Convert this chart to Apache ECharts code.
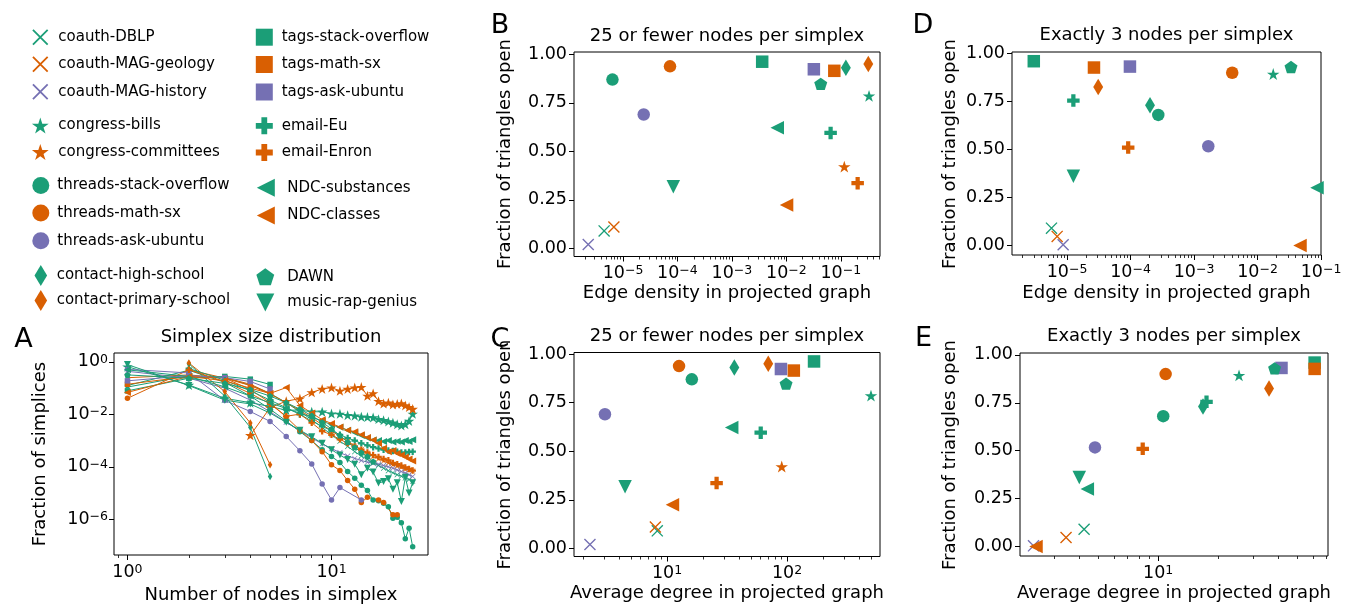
<!DOCTYPE html>
<html><head><meta charset="utf-8">
<script src="https://cdn.jsdelivr.net/npm/echarts@6.0.0/dist/echarts.min.js"></script>
<style>html,body{margin:0;padding:0;background:#fff}#c{width:1346px;height:604px}</style>
</head><body><div id="c"></div>
<script>
// ---------------- DATA ----------------
const datasetNames = ['coauth-DBLP','coauth-MAG-geology','coauth-MAG-history','congress-bills','congress-committees',
  'threads-stack-overflow','threads-math-sx','threads-ask-ubuntu','contact-high-school','contact-primary-school',
  'tags-stack-overflow','tags-math-sx','tags-ask-ubuntu','email-Eu','email-Enron','NDC-substances','NDC-classes','DAWN','music-rap-genius'];

// Panels B & C: 25 or fewer nodes per simplex
const openFrac25 = [0.09,0.11,0.02,0.786,0.421,0.87,0.938,0.69,0.931,0.95,0.962,0.915,0.923,0.595,0.336,0.622,0.224,0.848,0.317];
const edgeDensity25 = [4.5e-6,6.8e-6,2.3e-6,0.33,0.116,6.4e-6,7.3e-5,2.4e-5,0.124,0.32,3.6e-3,0.076,0.032,0.065,0.204,6.8e-3,0.0101,0.0428,8.4e-5];
const avgDegree25 = [8.3,8.0,2.28,501,90.4,16.1,12.6,3.04,36.4,69.8,168,114,89,60.4,25.9,34.6,11.1,98.2,4.47];

// Panels D & E: exactly 3 nodes per simplex (congress-committees not shown)
const openFrac3 = [0.09,0.047,0.003,0.893,null,0.68,0.9,0.517,0.73,0.825,0.96,0.927,0.932,0.755,0.51,0.30,0.0,0.93,0.36];
const edgeDensity3 = [5.7e-6,7.0e-6,8.7e-6,0.0177,null,2.74e-4,4.0e-3,1.68e-3,2.03e-4,3.1e-5,3.0e-6,2.66e-5,9.8e-5,1.26e-5,9.2e-5,0.0865,0.0467,0.0337,1.26e-5];
const avgDegree3 = [4.24,3.44,2.36,25.5,null,10.6,10.9,4.81,16.8,36.1,61.2,61.2,41.7,17.5,8.36,4.40,2.43,38.5,4.01];

// Panel A: simplex size distribution (fraction of simplices with k nodes, k = 1..)
const simplexSizes = [1,2,3,4,5,6,7,8,9,10,11,12,13,14,15,16,17,18,19,20,21,22,23,24,25];
const distCoauthDBLP = [0.11,0.30,0.25,0.13,0.063,0.028,0.0126,0.0063,0.0032,0.00166,0.00095,0.0006,0.00038,0.00026,0.00019,0.00014,0.000112,0.000089,0.000071,0.00006,0.00005,0.000044,0.000038,0.000033,0.000028];
const distCoauthGeology = [0.25,0.32,0.24,0.126,0.06,0.028,0.014,0.0076,0.004,0.0024,0.0014,0.00095,0.00063,0.00045,0.00033,0.00025,0.0002,0.000166,0.000138,0.000117,0.000105,0.000093,0.000083,0.000076,0.000069];
const distCoauthHistory = [0.44,0.24,0.10,0.035,0.0126,0.005,0.0024,0.00126,0.00076,0.0005,0.00035,0.00026,0.00021,0.000174,0.000151,0.000138,0.000126,0.000112,0.0001,0.000089,0.000076,0.000066,0.000058,0.00005,0.000043];
const distCongressBills = [0.66,0.132,0.041,0.028,0.02,0.0145,0.0145,0.0126,0.0126,0.0107,0.0105,0.0093,0.0089,0.0081,0.0079,0.0076,0.0066,0.006,0.0054,0.0048,0.0042,0.0038,0.0042,0.0056,0.0105];
const distCongressCommittees = [null,null,null,0.0016,0.018,0.032,0.04,0.069,0.093,0.105,0.079,0.093,0.105,0.11,0.051,0.063,0.032,0.026,0.028,0.024,0.025,0.026,0.022,0.019,0.016];
const distThreadsStackOverflow = [0.126,0.48,0.166,0.05,0.0158,0.0056,0.0022,0.001,0.00045,0.00025,0.000145,0.000066,0.000037,0.00002,0.0000126,0.0000055,0.0000051,0.0000041,0.000003,0.0000011,0.0000012,0.00000074,0.00000018,0.00000046,0.000000091];
const distThreadsMathSx = [0.041,0.5,0.24,0.089,0.028,0.0079,0.0025,0.001,0.00038,0.00012,0.000072,0.00003,0.0000141,0.0000044,0.0000069,null,0.0000055,0.0000044,null,0.0000015,0.0000015];
const distThreadsAskUbuntu = [0.52,0.38,0.034,0.0129,0.0054,0.00145,0.00041,0.000129,0.0000224,0.0000055,0.0000162,null,null,0.0000055];
const distContactHighSchool = [null,0.85,0.05,0.0032,0.0000427];
const distContactPrimarySchool = [null,0.91,0.074,0.0047,0.00012];
const distTagsStackOverflow = [0.079,0.24,0.28,0.22,0.138];
const distTagsMathSx = [0.141,0.28,0.25,0.141,0.063];
const distTagsAskUbuntu = [0.19,0.3,0.25,0.18,0.093];
const distEmailEu = [null,0.56,0.2,0.079,0.035,0.0178,0.01,0.0056,0.0035,0.0024,0.00166,0.00126,0.001,0.00079,0.00066,0.00056,0.0005,0.00045,0.00042,0.0004,0.00038,0.00035,0.00035,0.00037,0.00038];
const distEmailEnron = [null,0.5,0.178,0.063,0.025,0.0085,0.0102,0.0048,0.0023,0.00166,0.00112,0.00079,0.0006,0.00045,0.00035,0.00028,0.00024,0.0002,0.000178,0.000141,0.000126,0.000112,0.000095,0.000083,0.000072];
const distNDCSubstances = [0.5,0.28,0.112,0.05,0.028,0.0166,0.0112,0.0079,0.0056,0.004,0.0032,0.0025,0.002,0.00158,0.00126,0.00105,0.001,0.00093,0.001,0.00089,0.00095,0.00089,0.001,0.00093,0.00107];
const distNDCClasses = [0.069,0.28,0.19,0.1,0.063,0.105,0.022,0.0112,0.0063,0.0045,0.0033,0.0025,0.0022,0.00166,0.00132,0.00105,0.00079,0.00051,0.00038,0.00042,0.00032,0.00028,0.00024,0.0002,0.000166];
const distDAWN = [0.32,0.24,0.151,0.089,0.05,0.028,0.0158,0.0089,0.005,0.0028,0.00158,0.00089,0.00056,0.00035,0.00025,0.000158];
const distMusicRapGenius = [0.79,0.126,0.035,0.025,0.0112,0.005,0.0025,0.0014,0.00079,0.00045,0.00028,0.00019,0.000126,0.00005,0.000089,0.000063,0.000024,0.0000275,0.000035,0.0000141,0.000025,0.0000048,0.00004,0.00001,0.000025];
const sizeDists = [distCoauthDBLP,distCoauthGeology,distCoauthHistory,distCongressBills,distCongressCommittees,
  distThreadsStackOverflow,distThreadsMathSx,distThreadsAskUbuntu,distContactHighSchool,distContactPrimarySchool,
  distTagsStackOverflow,distTagsMathSx,distTagsAskUbuntu,distEmailEu,distEmailEnron,distNDCSubstances,distNDCClasses,distDAWN,distMusicRapGenius];

// tick values
const openTicks = [0, 0.25, 0.5, 0.75, 1];
const expTicksAx = [0, 1];
const expTicksAy = [-6, -4, -2, 0];
const expTicksB = [-5, -4, -3, -2, -1];
const expTicksC = [1, 2];
const expTicksD = [-5, -4, -3, -2, -1];
const expTicksE = [1];

// ---------------- STYLE ----------------
const FONT = 'DejaVu Sans';
const G = '#1b9e77', O = '#d95f02', P = '#7570b3';
const datasetColors = [G,O,P,G,O,G,O,P,G,O,G,O,P,G,O,G,O,G,G];
const datasetMarkers = ['x','x','x','star','star','circle','circle','circle','diamond','diamond','square','square','square','plus','plus','tleft','tleft','pent','tdown'];
const SYMBOL = {
  x: 'path://M0 8L8 0L100 92L92 100Z M92 0L100 8L8 100L0 92Z',
  star: 'path://M50 0L61.23 34.55L97.55 34.55L68.17 55.9L79.39 90.45L50 69.1L20.61 90.45L31.83 55.9L2.45 34.55L38.77 34.55Z',
  circle: 'circle',
  diamond: 'path://M30 0L60 50L30 100L0 50Z',
  square: 'path://M0 0L100 0L100 100L0 100Z',
  plus: 'path://M33 0L67 0L67 33L100 33L100 67L67 67L67 100L33 100L33 67L0 67L0 33L33 33Z',
  tleft: 'path://M0 50L100 0L100 100Z',
  pent: 'path://M50 0L97.55 34.55L79.39 90.45L20.61 90.45L2.45 34.55Z',
  tdown: 'path://M0 0L100 0L50 100Z'
};
const symbolAspect = {x:1, star:1.051, circle:1, diamond:0.6, square:1, plus:1, tleft:1, pent:1.051, tdown:1};
const bigSize = {x:12, star:12.5, circle:12.5, diamond:16.5, square:12.5, plus:12.5, tleft:13.5, pent:13, tdown:13.5};
const smallSize = {x:5.5, star:10.5, circle:5.5, diamond:7.5, square:5.5, plus:6.5, tleft:7, pent:6.5, tdown:7};
const TICK_FS = 17.5;
const RICH = {
  b: {fontSize: TICK_FS, fontFamily: FONT, color: '#000', lineHeight: 18, padding: [3,0,0,0], verticalAlign: 'bottom'},
  s: {fontSize: 12.5, fontFamily: FONT, color: '#000', lineHeight: 14, verticalAlign: 'top'}
};
function pow10Label(v) {
  const e = Math.round(v);
  return '{b|10}{s|' + (e < 0 ? '\u2212' + (-e) : String(e)) + '}';
}
function minorLogTicks(min, max) {
  const out = [];
  for (let k = Math.floor(min); k <= Math.ceil(max); k++)
    for (let m = 2; m <= 9; m++) { const v = k + Math.log10(m); if (v > min && v < max) out.push(v); }
  return out;
}
function logXAxes(gi, range, majors, withMinor) {
  const axes = [{
    type: 'value', gridIndex: gi, min: range[0], max: range[1], position: 'bottom',
    axisLine: {show: false, onZero: false}, splitLine: {show: false},
    axisTick: {show: true, customValues: majors, length: 5, lineStyle: {color: '#000', width: 1}},
    axisLabel: {show: true, customValues: majors, margin: 8, formatter: pow10Label, rich: RICH, color: '#000', showMinLabel: true, showMaxLabel: true}
  }];
  axes.push({
    type: 'value', gridIndex: gi, min: range[0], max: range[1], position: 'bottom',
    axisLine: {show: false, onZero: false}, splitLine: {show: false},
    axisTick: {show: withMinor, customValues: minorLogTicks(range[0], range[1]), length: 3, lineStyle: {color: '#000', width: 0.8}},
    axisLabel: {show: false}
  });
  return axes;
}
function openYAxis(gi, range) {
  return {
    type: 'value', gridIndex: gi, min: range[0], max: range[1],
    axisLine: {show: false, onZero: false}, splitLine: {show: false},
    axisTick: {show: true, customValues: openTicks, length: 5, lineStyle: {color: '#000', width: 1}},
    axisLabel: {customValues: openTicks, formatter: v => v.toFixed(2), fontSize: TICK_FS, fontFamily: FONT, color: '#000', margin: 7, showMinLabel: true, showMaxLabel: true}
  };
}

const grids = [
  {left: 114, top: 353, width: 314, height: 202},
  {left: 574, top: 52, width: 306, height: 204.5},
  {left: 574, top: 352.5, width: 306, height: 204},
  {left: 1012, top: 52, width: 309, height: 203},
  {left: 1020, top: 353, width: 308, height: 203}
].map(g => Object.assign(g, {show: true, borderColor: '#000', borderWidth: 1, backgroundColor: 'transparent', containLabel: false}));

const xAxes = [].concat(
  logXAxes(0, [-0.066, 1.473], expTicksAx, true),
  logXAxes(1, [-5.9, -0.28], expTicksB, true),
  logXAxes(2, [0.225, 2.775], expTicksC, true),
  logXAxes(3, [-5.866, -1.0], expTicksD, true),
  logXAxes(4, [0.305, 1.854], expTicksE, true)
);
const yAxes = [
  {
    type: 'value', gridIndex: 0, min: -7.36, max: 0.34,
    axisLine: {show: false, onZero: false}, splitLine: {show: false},
    axisTick: {show: true, customValues: expTicksAy, length: 5, lineStyle: {color: '#000', width: 1}},
    axisLabel: {customValues: expTicksAy, formatter: pow10Label, rich: RICH, color: '#000', margin: 6, showMinLabel: true, showMaxLabel: true}
  },
  openYAxis(1, [-0.042, 1.012]),
  openYAxis(2, [-0.042, 1.008]),
  openYAxis(3, [-0.05, 1.008]),
  openYAxis(4, [-0.05, 1.01])
];

const series = [];
const scatterPanels = [
  {xi: 2, yi: 1, xs: edgeDensity25, ys: openFrac25},
  {xi: 4, yi: 2, xs: avgDegree25, ys: openFrac25},
  {xi: 6, yi: 3, xs: edgeDensity3, ys: openFrac3},
  {xi: 8, yi: 4, xs: avgDegree3, ys: openFrac3}
];
scatterPanels.forEach(p => datasetNames.forEach((name, i) => {
  if (p.xs[i] == null || p.ys[i] == null) return;
  const m = datasetMarkers[i];
  series.push({
    type: 'scatter', name, xAxisIndex: p.xi, yAxisIndex: p.yi, silent: true, z: 3,
    symbol: SYMBOL[m], symbolSize: bigSize[m], symbolKeepAspect: true,
    itemStyle: {color: datasetColors[i], opacity: 1},
    data: [[Math.log10(p.xs[i]), p.ys[i]]]
  });
}));
datasetNames.forEach((name, i) => {
  const m = datasetMarkers[i];
  const pts = [];
  sizeDists[i].forEach((v, k) => { if (v != null && v > 0) pts.push([Math.log10(simplexSizes[k]), Math.log10(v)]); });
  series.push({
    type: 'line', name, xAxisIndex: 0, yAxisIndex: 0, silent: true, z: 2,
    data: pts, symbol: SYMBOL[m], symbolSize: smallSize[m], symbolKeepAspect: true,
    showSymbol: true, showAllSymbol: true, connectNulls: true,
    lineStyle: {width: 1, color: datasetColors[i]}, itemStyle: {color: datasetColors[i]}
  });
});

// legend layout: [datasetIndex, iconCenterX, textStartX, centerY, iconHeight]
const legendLayout = [
  [0, 40.3, 58.3, 37.2, 16], [1, 40.3, 58.3, 64.3, 16], [2, 40.3, 58.3, 91.7, 16],
  [3, 40.3, 58.3, 125.6, 16], [4, 40.3, 58.3, 152, 16],
  [5, 40.8, 57.3, 185.5, 17], [6, 40.8, 57.3, 213, 17], [7, 40.8, 57.3, 240.8, 17],
  [8, 40.8, 56.7, 275.5, 21], [9, 40.8, 56.7, 300.5, 21],
  [10, 264.3, 281.7, 37.2, 17], [11, 264.3, 281.7, 64.5, 17], [12, 264.3, 281.7, 92, 17],
  [13, 264.3, 281.7, 125.8, 17], [14, 264.3, 281.7, 152.5, 17],
  [15, 265.8, 287.3, 187.8, 18], [16, 265.8, 287.3, 215.5, 18],
  [17, 265.3, 287.3, 276.7, 17], [18, 265.3, 287.3, 302.5, 18]
];
const legends = legendLayout.map(([i, cx, tx, cy, h]) => {
  const m = datasetMarkers[i];
  const iconW = h * symbolAspect[m];
  const w = 2 * (tx - cx - 5);
  return {
    left: cx - iconW / 2, top: cy - h / 2, orient: 'vertical', padding: 0, itemGap: 0,
    itemWidth: w, itemHeight: h, selectedMode: false,
    textStyle: {fontSize: 15, fontFamily: FONT, color: '#000', lineHeight: h},
    data: [{name: datasetNames[i], icon: SYMBOL[m], itemStyle: {color: datasetColors[i]}}]
  };
});

function T(text, x, y, size, rot) {
  return {type: 'text', x, y, rotation: rot || 0, silent: true,
    style: {text, fontSize: size, fontFamily: FONT, fill: '#000', align: 'center', verticalAlign: 'middle', textAlign: 'center', textVerticalAlign: 'middle'}};
}
const R = Math.PI / 2;
const graphics = [
  T('A', 23.5, 340, 27), T('B', 500, 25.5, 27), T('C', 500, 340, 27), T('D', 923, 25.5, 27), T('E', 923.5, 339, 27),
  T('Simplex size distribution', 271, 337, 18),
  T('25 or fewer nodes per simplex', 727, 36, 18),
  T('25 or fewer nodes per simplex', 727, 336, 18),
  T('Exactly 3 nodes per simplex', 1166.5, 35, 18),
  T('Exactly 3 nodes per simplex', 1174, 336.7, 18),
  T('Number of nodes in simplex', 271, 595, 18),
  T('Edge density in projected graph', 727, 293, 18),
  T('Average degree in projected graph', 727, 593, 18),
  T('Edge density in projected graph', 1166.5, 293, 18),
  T('Average degree in projected graph', 1174, 593.3, 18),
  T('Fraction of simplices', 40.5, 454, 18, R),
  T('Fraction of triangles open', 505, 154, 18, R),
  T('Fraction of triangles open', 505, 454.5, 18, R),
  T('Fraction of triangles open', 950, 154, 18, R),
  T('Fraction of triangles open', 950, 455, 18, R)
];

const chart = echarts.init(document.getElementById('c'), null, {renderer: 'canvas'});
chart.setOption({
  animation: false,
  backgroundColor: '#fff',
  textStyle: {fontFamily: FONT},
  grid: grids,
  xAxis: xAxes,
  yAxis: yAxes,
  legend: legends,
  series: series,
  graphic: {elements: graphics}
});
</script></body></html>
